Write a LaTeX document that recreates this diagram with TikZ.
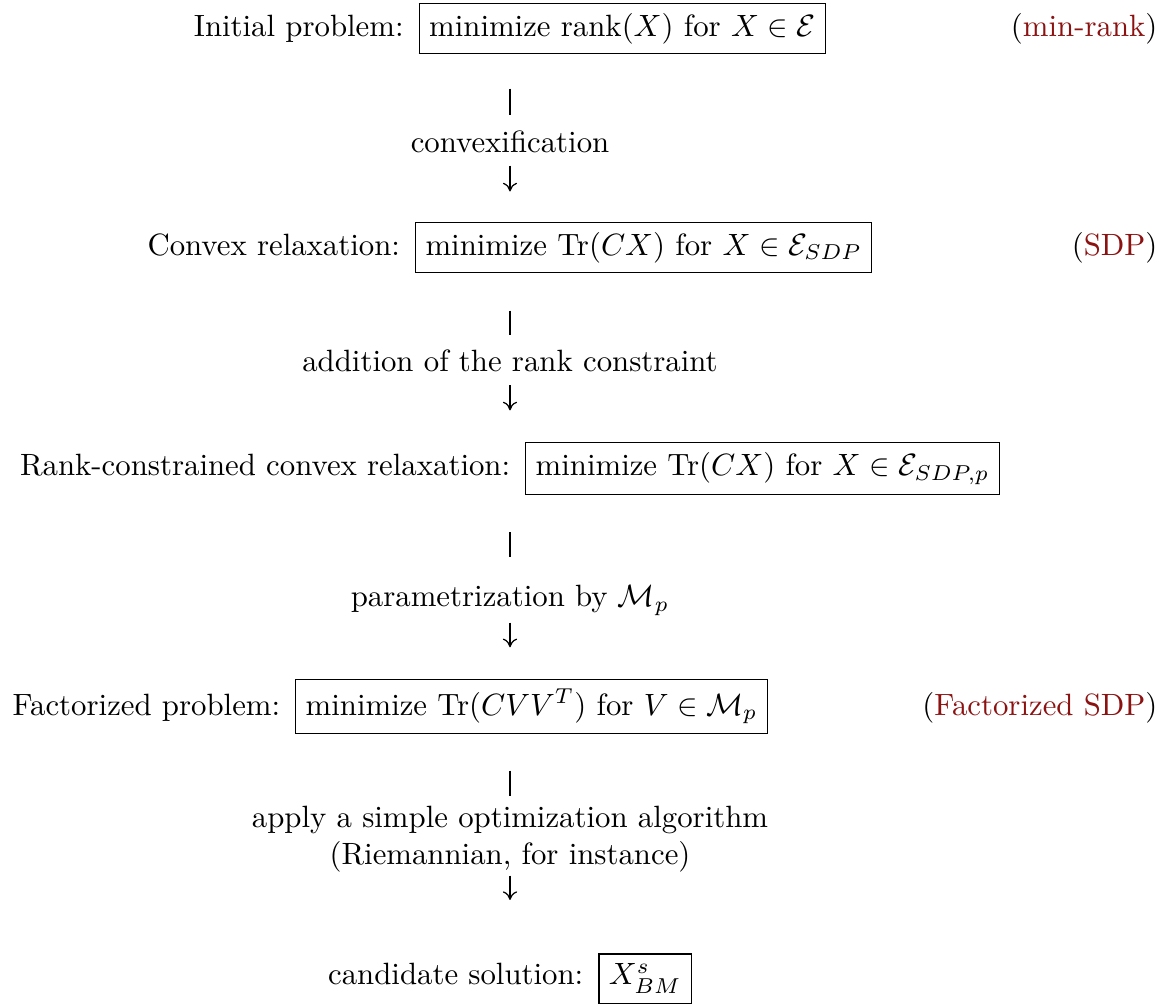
\documentclass[tikz,border=0pt]{standalone}
\usepackage{amsmath}
\usetikzlibrary{arrows.meta}
\definecolor{tagred}{RGB}{140,18,18}
\newcommand{\rowgap}{\hspace{4.9pt}}
\begin{document}
\begin{tikzpicture}[x=0.3247pt,y=-0.3247pt,
  row/.style={inner sep=0pt},
  tagtext/.style={inner sep=0pt, text=tagred},
  steplabel/.style={inner sep=0pt, text height=6.94pt, text depth=1.94pt},
  steplabeltwo/.style={inner sep=0pt, align=center},
  barline/.style={line width=0.4pt},
  arrowline/.style={line width=0.4pt, -{To[length=2.8pt,width=4.6pt]}}]
\useasboundingbox (0,0) rectangle (1176,1005);
\setlength{\fboxsep}{3pt}\setlength{\fboxrule}{0.4pt}

% rows: label + boxed formula
\node[row] (r1) at (510,28.5) {Initial problem:\rowgap\fbox{minimize rank$(X)$ for $X\in\mathcal{E}$}};
\node[tagtext, anchor=base east] (t1) at (r1.base -| 1158,0) {\textcolor{black}{(}min-rank\textcolor{black}{)}};

\node[row] (r2) at (510,247.5) {Convex relaxation:\rowgap\fbox{minimize Tr$(CX)$ for $X\in\mathcal{E}_{SDP}$}};
\node[tagtext, anchor=base east] (t2) at (r2.base -| 1158,0) {\textcolor{black}{(}SDP\textcolor{black}{)}};

\node[row] (r3) at (510,468.5) {Rank-constrained convex relaxation:\rowgap\fbox{minimize Tr$(CX)$ for $X\in\mathcal{E}_{SDP,p}$}};

\node[row, anchor=west] (r4) at (12,706.5) {Factorized problem:\rowgap\fbox{minimize Tr$(CVV^T)$ for $V\in\mathcal{M}_p$}};
\node[tagtext, anchor=base east] (t4) at (r4.base -| 1158,0) {\textcolor{black}{(}Factorized SDP\textcolor{black}{)}};

\node[row] (r5) at (510,978.5) {candidate solution:\rowgap\fbox{$X^s_{BM}$}};

% step labels
\node[steplabel, anchor=base] (c1) at (510,152.5) {convexification};
\node[steplabel, anchor=base] (c2) at (510,371.5) {addition of the rank constraint};
\node[steplabel, anchor=base] (c3) at (510,606.5) {parametrization by $\mathcal{M}_p$};
\node[steplabeltwo] (c4) at (510,839) {apply a simple optimization algorithm\\(Riemannian, for instance)};

% connectors
\draw[barline, shorten <=10.9pt, shorten >=4.9pt] (c1.north |- r1.south) -- (c1.north);
\draw[arrowline, shorten <=2.1pt, shorten >=9.6pt] (c1.south) -- (c1.south |- r2.north);
\draw[barline, shorten <=11.9pt, shorten >=4.6pt] (c2.north |- r2.south) -- (c2.north);
\draw[arrowline, shorten <=2.4pt, shorten >=10.1pt] (c2.south) -- (c2.south |- r3.north);
\draw[barline, shorten <=12pt, shorten >=8.8pt] (c3.north |- r3.south) -- (c3.north);
\draw[arrowline, shorten <=3.1pt, shorten >=10pt] (c3.south) -- (c3.south |- r4.north);
\draw[barline, shorten <=11.6pt, shorten >=3.2pt] (c4.north |- r4.south) -- (c4.north);
\draw[arrowline, shorten <=1pt, shorten >=17.1pt] (c4.south) -- (c4.south |- r5.north);
\end{tikzpicture}
\end{document}
